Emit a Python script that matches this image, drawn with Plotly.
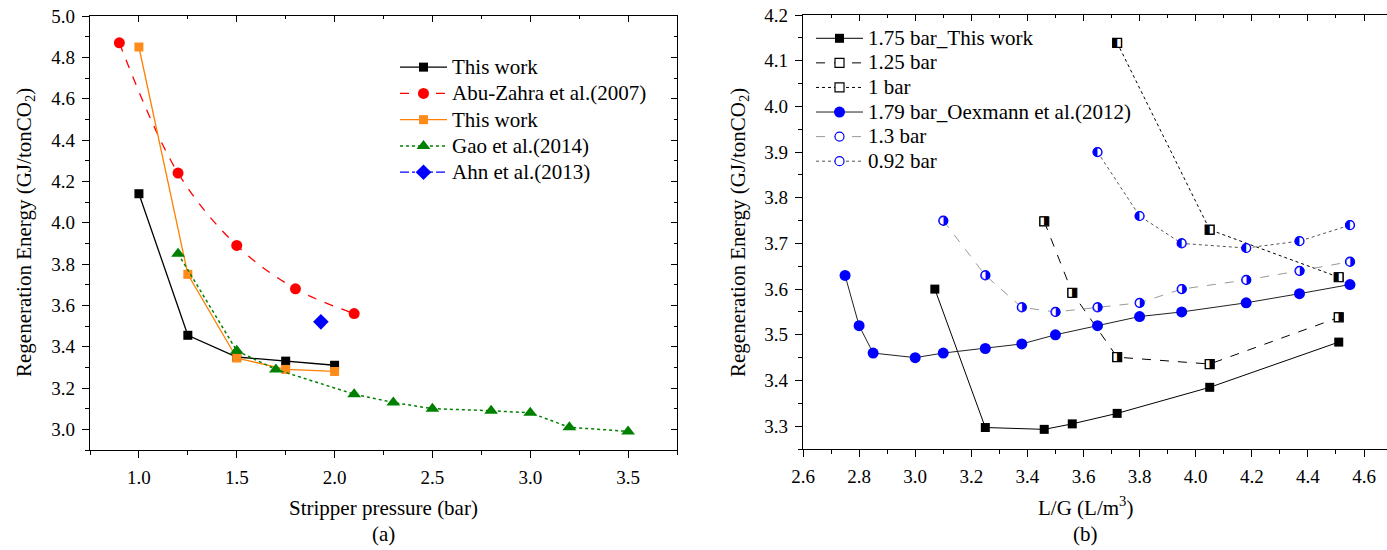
import plotly.graph_objects as go

# ---------------- Panel (a) data ----------------
p_tw1 = [1.0, 1.25, 1.5, 1.75, 2.0]
e_tw1 = [4.14, 3.455, 3.35, 3.33, 3.31]
p_abu = [0.9, 1.2, 1.5, 1.8, 2.1]
e_abu = [4.87, 4.24, 3.89, 3.68, 3.56]
p_tw2 = [1.0, 1.25, 1.5, 1.75, 2.0]
e_tw2 = [4.85, 3.75, 3.345, 3.29, 3.28]
p_gao = [1.2, 1.5, 1.7, 2.1, 2.3, 2.5, 2.8, 3.0, 3.2, 3.5]
e_gao = [3.85, 3.38, 3.29, 3.17, 3.13, 3.10, 3.09, 3.08, 3.01, 2.99]
p_ahn = [1.93]
e_ahn = [3.52]

# ---------------- Panel (b) data ----------------
lg_175 = [3.07, 3.25, 3.46, 3.56, 3.72, 4.05, 4.51]
e_175 = [3.60, 3.297, 3.293, 3.305, 3.328, 3.385, 3.484]
lg_125 = [3.46, 3.56, 3.72, 4.05, 4.51]
e_125 = [3.748, 3.592, 3.451, 3.436, 3.538]
lg_100 = [3.72, 4.05, 4.51]
e_100 = [4.139, 3.730, 3.626]
lg_179 = [2.75, 2.80, 2.85, 3.00, 3.10, 3.25, 3.38, 3.50, 3.65, 3.80, 3.95, 4.18, 4.37, 4.55]
e_179 = [3.63, 3.52, 3.46, 3.45, 3.46, 3.47, 3.48, 3.50, 3.52, 3.54, 3.55, 3.57, 3.59, 3.61]
lg_130 = [3.10, 3.25, 3.38, 3.50, 3.65, 3.80, 3.95, 4.18, 4.37, 4.55]
e_130 = [3.75, 3.63, 3.56, 3.55, 3.56, 3.57, 3.60, 3.62, 3.64, 3.66]
lg_092 = [3.65, 3.80, 3.95, 4.18, 4.37, 4.55]
e_092 = [3.90, 3.76, 3.70, 3.69, 3.705, 3.74]

FONT = "Liberation Serif, Times New Roman, Times, serif"
W, H = 1387, 550
LEG_PX = 21


def lab(s):
    return '<span style="font-size:%dpx">%s</span>' % (LEG_PX, s)


fig = go.Figure()

# ---- panel (a) traces ----
fig.add_trace(go.Scatter(x=p_tw1, y=e_tw1, mode="lines+markers", name=lab("This work"),
                         line=dict(color="black", width=1.3),
                         marker=dict(symbol="square", size=9, color="black"),
                         xaxis="x", yaxis="y", legend="legend"))
fig.add_trace(go.Scatter(x=p_abu, y=e_abu, mode="lines+markers", name=lab("Abu-Zahra et al.(2007)"),
                         line=dict(color="#ff0000", width=1.3, dash="dash", shape="spline"),
                         marker=dict(symbol="circle", size=11, color="#ff0000"),
                         xaxis="x", yaxis="y", legend="legend"))
fig.add_trace(go.Scatter(x=p_tw2, y=e_tw2, mode="lines+markers", name=lab("This work"),
                         line=dict(color="#ff8000", width=1.3),
                         marker=dict(symbol="square", size=9, color="#ff8c1a"),
                         xaxis="x", yaxis="y", legend="legend"))
fig.add_trace(go.Scatter(x=p_gao, y=e_gao, mode="lines+markers", name=lab("Gao et al.(2014)"),
                         line=dict(color="#008000", width=1.5, dash="dot"),
                         marker=dict(symbol="triangle-up", size=12, color="#008000"),
                         xaxis="x", yaxis="y", legend="legend"))
fig.add_trace(go.Scatter(x=p_ahn, y=e_ahn, mode="lines+markers", name=lab("Ahn et al.(2013)"),
                         line=dict(color="#0000ff", width=1.3, dash="dashdot"),
                         marker=dict(symbol="diamond", size=12, color="#0000ff"),
                         xaxis="x", yaxis="y", legend="legend"))
# invisible carrier so the inward frame ticks (top/right) are drawn
fig.add_trace(go.Scatter(x=p_gao, y=e_gao, mode="markers", marker=dict(opacity=0),
                         showlegend=False, hoverinfo="skip", xaxis="x3", yaxis="y3"))


# ---- panel (b) traces ----
def half_trace(xs, ys, name, glyph, color, dash, lcolor, sym):
    fig.add_trace(go.Scatter(x=xs, y=ys, mode="lines+markers", name=lab(name),
                             line=dict(color=lcolor, width=1, dash=dash),
                             marker=dict(symbol=sym, size=9, color="white",
                                         line=dict(color=color, width=1.2)),
                             xaxis="x2", yaxis="y2", legend="legend2"))
    fig.add_trace(go.Scatter(x=xs, y=ys, mode="text", text=[glyph] * len(xs),
                             textfont=dict(family="DejaVu Sans", size=12, color=color),
                             textposition="middle center", showlegend=False, hoverinfo="skip",
                             xaxis="x2", yaxis="y2", legend="legend2"))


fig.add_trace(go.Scatter(x=lg_175, y=e_175, mode="lines+markers", name=lab("1.75 bar_This work"),
                         line=dict(color="black", width=1),
                         marker=dict(symbol="square", size=9, color="black"),
                         xaxis="x2", yaxis="y2", legend="legend2"))
half_trace(lg_125, e_125, "1.25 bar", "\u25E8", "black", "dash", "black", "square")
half_trace(lg_100, e_100, "1 bar", "\u25E7", "black", "dot", "black", "square")
fig.add_trace(go.Scatter(x=lg_179, y=e_179, mode="lines+markers", name=lab("1.79 bar_Oexmann et al.(2012)"),
                         line=dict(color="#222222", width=1),
                         marker=dict(symbol="circle", size=11, color="#0000ff"),
                         xaxis="x2", yaxis="y2", legend="legend2"))
half_trace(lg_130, e_130, "1.3 bar", "\u25D1", "#0000ff", "dash", "#999999", "circle")
half_trace(lg_092, e_092, "0.92 bar", "\u25D0", "#0000ff", "dot", "#555555", "circle")
fig.add_trace(go.Scatter(x=lg_179, y=e_179, mode="markers", marker=dict(opacity=0),
                         showlegend=False, hoverinfo="skip", xaxis="x4", yaxis="y2"))

TICKFONT = dict(family=FONT, size=19, color="black")
axis_common = dict(showline=True, linecolor="black", linewidth=1.3, mirror=True,
                   ticks="outside", ticklen=7, tickwidth=1.2, tickcolor="black",
                   showgrid=False, zeroline=False, tickfont=TICKFONT, automargin=False)

xa_dom = [90 / W, 677 / W]
ya_dom = [1 - 450 / H, 1 - 16 / H]
xb_dom = [803 / W, 1.0]
yb_dom = [1 - 449 / H, 1 - 15 / H]

inner = dict(ticks="inside", ticklen=6, tickwidth=1.2, tickcolor="black", automargin=False,
             showticklabels=False, showline=False, showgrid=False, zeroline=False)

fig.update_layout(
    width=W, height=H, margin=dict(l=0, r=0, t=0, b=0, autoexpand=False),
    paper_bgcolor="white", plot_bgcolor="white",
    font=dict(family=FONT, color="black"),
    xaxis=dict(domain=xa_dom, anchor="y", range=[0.75, 3.75],
               tickvals=[1.0, 1.5, 2.0, 2.5, 3.0, 3.5], ticktext=["1.0", "1.5", "2.0", "2.5", "3.0", "3.5"],
               minor=dict(dtick=0.25, tick0=0.75, ticks="outside", ticklen=4, tickcolor="black"),
               ticklabelstandoff=3, **axis_common),
    yaxis=dict(domain=ya_dom, anchor="x", range=[2.9, 5.0],
               dtick=0.2, tick0=3.0, tickformat=".1f",
               minor=dict(dtick=0.1, tick0=2.9, ticks="outside", ticklen=4, tickcolor="black"),
               ticklabelstandoff=3, **axis_common),
    xaxis3=dict(overlaying="x", side="top", anchor="y", range=[0.75, 3.75],
                tickvals=[1.0, 1.5, 2.0, 2.5, 3.0, 3.5],
                minor=dict(dtick=0.25, tick0=0.75, ticks="inside", ticklen=3, tickcolor="black"), **inner),
    yaxis3=dict(overlaying="y", side="right", anchor="x", range=[2.9, 5.0], dtick=0.2, tick0=3.0,
                minor=dict(dtick=0.1, tick0=2.9, ticks="inside", ticklen=3, tickcolor="black"), **inner),
    xaxis2=dict(domain=xb_dom, anchor="y2", range=[2.6, 4.682],
                dtick=0.2, tick0=2.6, tickformat=".1f",
                minor=dict(dtick=0.1, tick0=2.6, ticks="outside", ticklen=4, tickcolor="black"),
                ticklabelstandoff=3, **axis_common),
    yaxis2=dict(domain=yb_dom, anchor="x2", range=[3.25, 4.2],
                dtick=0.1, tick0=3.3, tickformat=".1f",
                minor=dict(dtick=0.05, tick0=3.25, ticks="outside", ticklen=4, tickcolor="black"),
                ticklabelstandoff=3, **{**axis_common, "mirror": False}),
    xaxis4=dict(overlaying="x2", side="top", anchor="y2", range=[2.6, 4.682], dtick=0.2, tick0=2.6,
                minor=dict(dtick=0.1, tick0=2.6, ticks="inside", ticklen=3, tickcolor="black"), **inner),
    legend=dict(x=395 / W, y=1 - 49 / H, xanchor="left", yanchor="top",
                bgcolor="rgba(0,0,0,0)", font=dict(family=FONT, size=17.9, color="black"),
                tracegroupgap=0, itemwidth=47),
    legend2=dict(x=811 / W, y=1 - 21 / H, xanchor="left", yanchor="top",
                 bgcolor="rgba(0,0,0,0)", font=dict(family=FONT, size=16.6, color="black"),
                 tracegroupgap=0, itemwidth=47),
    annotations=[
        dict(text="Stripper pressure (bar)", x=(90 + 677) / 2 / W, y=1 - 508 / H, xref="paper", yref="paper",
             showarrow=False, font=dict(family=FONT, size=21), xanchor="center", yanchor="middle"),
        dict(text="(a)", x=(90 + 677) / 2 / W, y=1 - 534 / H, xref="paper", yref="paper",
             showarrow=False, font=dict(family=FONT, size=21), xanchor="center", yanchor="middle"),
        dict(text="L/G (L/m<sup>3</sup>)", x=1085 / W, y=1 - 506 / H, xref="paper", yref="paper",
             showarrow=False, font=dict(family=FONT, size=21), xanchor="center", yanchor="middle"),
        dict(text="(b)", x=1085 / W, y=1 - 534 / H, xref="paper", yref="paper",
             showarrow=False, font=dict(family=FONT, size=21), xanchor="center", yanchor="middle"),
        dict(text="Regeneration Energy (GJ/tonCO<sub>2</sub>)", x=25 / W, y=1 - 233 / H,
             xref="paper", yref="paper", showarrow=False, textangle=-90,
             font=dict(family=FONT, size=21), xanchor="center", yanchor="middle"),
        dict(text="Regeneration Energy (GJ/tonCO<sub>2</sub>)", x=739 / W, y=1 - 233 / H,
             xref="paper", yref="paper", showarrow=False, textangle=-90,
             font=dict(family=FONT, size=21), xanchor="center", yanchor="middle"),
    ],
)

fig.write_html("out.html")
